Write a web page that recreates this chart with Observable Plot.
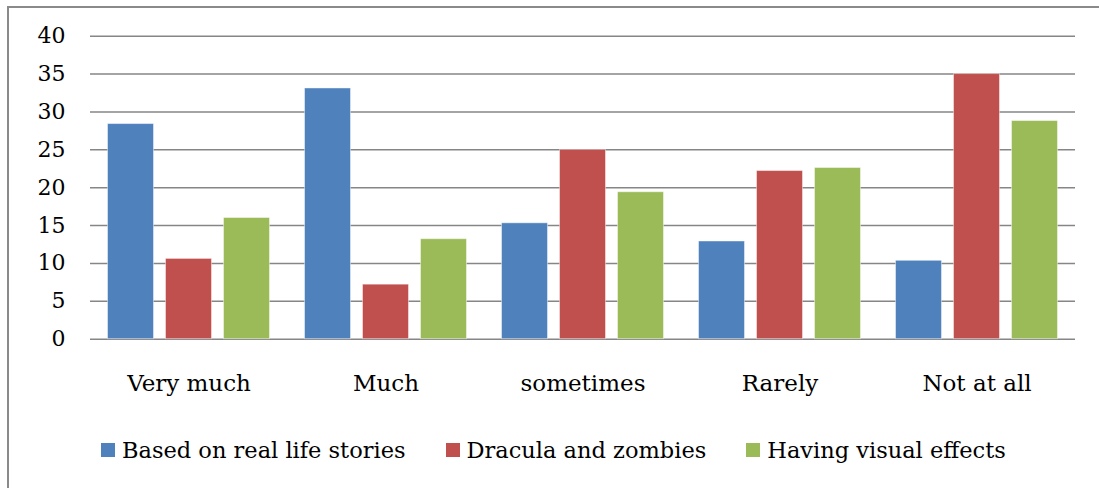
<!DOCTYPE html>
<html>
<head>
<meta charset="utf-8">
<script src="https://cdn.jsdelivr.net/npm/d3@7"></script>
<script src="https://cdn.jsdelivr.net/npm/@observablehq/plot@0.6"></script>
<style>
  html, body { margin: 0; padding: 0; background: #fff; overflow: hidden; }
  #frame {
    position: absolute; left: 7px; top: 6px; width: 1200px; height: 600px;
    border: 2px solid #8a8a8a; box-sizing: border-box;
  }
  #chart { position: absolute; left: 0; top: 0; }
  #legend {
    position: absolute; left: 101px; top: 437px;
    display: flex; align-items: center; gap: 40px;
    font-family: "DejaVu Serif", serif; font-size: 22.5px; line-height: 26px; color: #000;
  }
  .item { display: flex; align-items: center; gap: 7px; white-space: nowrap; }
  .swatch { width: 14px; height: 14px; display: inline-block; }
</style>
</head>
<body>
<div id="frame"></div>
<div id="chart"></div>
<div id="legend"></div>
<script>
// Survey answers: how much each kind of horror film is liked (percent)
const categories = ["Very much", "Much", "sometimes", "Rarely", "Not at all"];
const seriesNames = ["Based on real life stories", "Dracula and zombies", "Having visual effects"];
const realLife = [28.4, 33.1, 15.3, 12.9, 10.35];
const dracula = [10.6, 7.2, 25.0, 22.2, 35.0];
const visualEffects = [16.0, 13.2, 19.4, 22.6, 28.8];
const yTicks = [0, 5, 10, 15, 20, 25, 30, 35, 40];
const colors = ["#4F81BD", "#C0504D", "#9BBB59"];

const seriesValues = [realLife, dracula, visualEffects];
const rows = [];
categories.forEach((cat, i) => {
  seriesNames.forEach((s, j) => rows.push({ cat, series: s, value: seriesValues[j][i] }));
});

const chart = Plot.plot({
  width: 1099,
  height: 410,
  marginLeft: 89,
  marginRight: 24,
  marginTop: 35.7,
  marginBottom: 71.3,
  style: { fontFamily: "'DejaVu Serif', serif", fontSize: "22px", color: "#000", background: "transparent" },
  fx: { domain: categories, padding: 0, label: null, axis: "bottom", tickSize: 0, tickPadding: 35 },
  x: { domain: seriesNames, paddingInner: 0.207, paddingOuter: 0.302, axis: null, round: false },
  y: { domain: [0, 40], ticks: yTicks, tickSize: 0, tickPadding: 25, label: null, tickFormat: d => String(d) },
  color: { domain: seriesNames, range: colors },
  marks: [
    Plot.ruleY(yTicks, { stroke: "#868686", strokeWidth: 1.5 }),
    Plot.barY(rows, {
      fx: "cat", x: "series", y: "value", fill: "series",
      stroke: "#ffffff", strokeOpacity: 0.45, strokeWidth: 1
    })
  ]
});
chart.querySelectorAll('[aria-label="fx-axis tick label"] text').forEach(t => t.style.fontSize = "23px");
document.getElementById("chart").appendChild(chart);

const legend = document.getElementById("legend");
seriesNames.forEach((s, j) => {
  const item = document.createElement("div");
  item.className = "item";
  const sw = document.createElement("span");
  sw.className = "swatch";
  sw.style.background = colors[j];
  const label = document.createElement("span");
  label.textContent = s;
  item.append(sw, label);
  legend.appendChild(item);
});
</script>
</body>
</html>
